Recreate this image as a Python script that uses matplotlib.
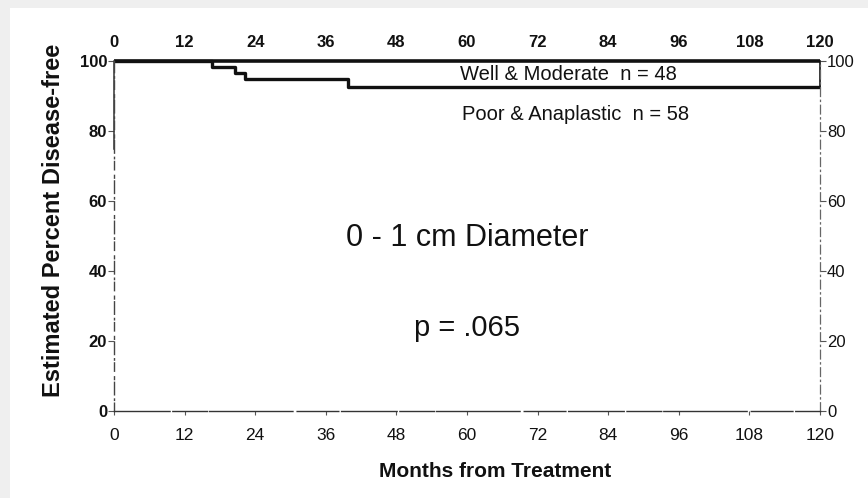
import matplotlib
matplotlib.use("Agg")
import matplotlib.pyplot as plt
from matplotlib.patches import Rectangle

plt.rcParams['font.family'] = ['Liberation Sans', 'DejaVu Sans']

# Kaplan-Meier style step data (months, estimated percent disease-free)
well_months = [0, 120]
well_pct = [100, 100]

poor_months = [0, 16.6, 20.6, 22.3, 39.8, 120]
poor_pct = [100, 98.3, 96.6, 94.8, 92.5, 92.5]

x_ticks = [0, 12, 24, 36, 48, 60, 72, 84, 96, 108, 120]
y_ticks = [0, 20, 40, 60, 80, 100]

well_label = "Well & Moderate  n = 48"
poor_label = "Poor & Anaplastic  n = 58"
title_text = "0 - 1 cm Diameter"
p_text = "p = .065"

fig = plt.figure(figsize=(8.68, 4.98), dpi=100)
fig.patch.set_facecolor('#efefef')
fig.patches.append(Rectangle((10 / 868, 0), 1, 1 - 8 / 498, transform=fig.transFigure,
                             facecolor='white', edgecolor='none', zorder=-10))

ax = fig.add_axes([114 / 868, 1 - 411 / 498, 706 / 868, 350 / 498])
ax.set_facecolor('none')

ink = '#111111'
ax.step(well_months, well_pct, where='post', color=ink, lw=2.6, solid_capstyle='butt', clip_on=False)
ax.step(poor_months, poor_pct, where='post', color=ink, lw=2.4, solid_capstyle='butt', clip_on=False)

ax.set_xlim(0, 120)
ax.set_ylim(0, 100)

# spines drawn like a worn print
ax.spines['top'].set_visible(False)
ax.spines['left'].set_color('#444444')
ax.spines['left'].set_linewidth(1.0)
ax.spines['left'].set_linestyle((0, (6, 2, 1, 3, 9, 2, 2, 4)))
ax.spines['right'].set_color('#666666')
ax.spines['right'].set_linewidth(0.9)
ax.spines['right'].set_linestyle((0, (7, 3, 1, 3)))
ax.spines['bottom'].set_color('#333333')
ax.spines['bottom'].set_linewidth(1.0)
ax.spines['bottom'].set_linestyle((0, (40, 2, 25, 1.5, 60, 3, 30, 2)))

# solid stretch of the axes near the top
ax.plot([120, 120], [poor_pct[-1], 100], color=ink, lw=1.2, clip_on=False)
ax.plot([0, 0], [75, 100], color='#333333', lw=1.1, clip_on=False)

ax.set_xticks(x_ticks)
ax.set_yticks(y_ticks)
ax.tick_params(axis='x', which='both', bottom=True, top=False, labelbottom=True, labeltop=False,
               direction='out', length=3, width=0.8, color='#555555', labelsize=12.5, pad=9,
               labelcolor=ink)
ax.tick_params(axis='y', which='both', left=True, right=True, labelleft=True, labelright=True,
               direction='out', length=4, width=0.8, color='#555555', labelsize=12, pad=1,
               labelcolor=ink)
for lbl in ax.get_xticklabels():
    lbl.set_fontstretch('condensed')
for tick in ax.yaxis.get_major_ticks():
    tick.label1.set_fontweight('bold')
    tick.label2.set_fontweight('normal')

# top month scale
top = ax.secondary_xaxis('top')
top.set_xticks(x_ticks)
top.tick_params(length=0, labelsize=12, pad=8, labelcolor=ink)
top.spines['top'].set_visible(False)
for lbl in top.get_xticklabels():
    lbl.set_fontweight('bold')

ax.set_xlabel("Months from Treatment", fontsize=15, fontweight='bold', color=ink)
ax.xaxis.set_label_coords(0.54, -0.145)
ax.set_ylabel("Estimated Percent Disease-free", fontsize=17, fontweight='bold', color=ink)
ax.yaxis.set_label_coords(-0.069, 0.546)

ax.text(58.8, 96.2, well_label, fontsize=14.5, va='center', ha='left', color=ink)
ax.text(59.2, 84.6, poor_label, fontsize=14.5, va='center', ha='left', color=ink)
ax.text(60, 49.4, title_text, fontsize=22, va='center', ha='center', color=ink)
ax.text(60, 23.7, p_text, fontsize=21, va='center', ha='center', color=ink)

fig.savefig("out.png", dpi=100, facecolor=fig.get_facecolor())
